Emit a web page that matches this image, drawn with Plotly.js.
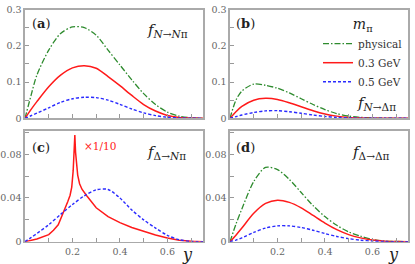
<!DOCTYPE html>
<html><head><meta charset="utf-8">
<script src="https://cdn.plot.ly/plotly-3.0.1.min.js"></script>
<style>html,body{margin:0;padding:0;background:#fff}#c{width:415px;height:264px}</style>
</head><body><div id="c"></div>
<script>
// shared y grid (momentum fraction)
const yGrid = [0, 0.025, 0.05, 0.1, 0.15, 0.2, 0.25, 0.3, 0.35, 0.4, 0.45, 0.5, 0.55, 0.6, 0.65, 0.7, 0.75];
// (a) f_{N->N pi}
const aPhys = [0, 0.062, 0.119, 0.188, 0.234, 0.252, 0.25, 0.229, 0.188, 0.147, 0.106, 0.068, 0.038, 0.017, 0.006, 0.0015, 0];
const a03   = [0, 0.024, 0.046, 0.087, 0.119, 0.139, 0.145, 0.138, 0.115, 0.09, 0.063, 0.038, 0.02, 0.008, 0.0025, 0.0005, 0];
const a05   = [0, 0.007, 0.014, 0.029, 0.044, 0.054, 0.058, 0.057, 0.05, 0.0385, 0.0257, 0.015, 0.0075, 0.003, 0.001, 0.0002, 0];
// (b) f_{N->Delta pi}
const bPhys = [0, 0.05, 0.075, 0.0945, 0.091, 0.083, 0.07, 0.054, 0.038, 0.024, 0.013, 0.006, 0.0025, 0.001, 0.0003, 0, 0];
const b03   = [0, 0.018, 0.033, 0.05, 0.055, 0.052, 0.043, 0.032, 0.021, 0.012, 0.006, 0.0025, 0.001, 0.0003, 0, 0, 0];
const b05   = [0, 0.0045, 0.009, 0.016, 0.0205, 0.021, 0.018, 0.014, 0.009, 0.005, 0.0025, 0.001, 0.0003, 0, 0, 0, 0];
// (c) f_{Delta->N pi}: 0.3 GeV curve (scaled x1/10) has a cusp
const cRedY = [0, 0.05, 0.1, 0.12, 0.14, 0.15, 0.16, 0.17, 0.18, 0.19, 0.197, 0.203, 0.207, 0.21, 0.213, 0.217, 0.222, 0.23, 0.24, 0.26, 0.28, 0.3, 0.35, 0.4, 0.45, 0.5, 0.55, 0.6, 0.65, 0.7, 0.75];
const cRed  = [0, 0.0025, 0.0065, 0.0105, 0.0155, 0.0205, 0.026, 0.031, 0.0365, 0.0425, 0.05, 0.065, 0.078, 0.0975, 0.082, 0.07, 0.061, 0.053, 0.048, 0.042, 0.036, 0.031, 0.023, 0.0175, 0.013, 0.0095, 0.0062, 0.0034, 0.0013, 0.0003, 0];
const c05   = [0, 0.0037, 0.0075, 0.0155, 0.025, 0.034, 0.042, 0.0475, 0.0478, 0.04, 0.029, 0.02, 0.0125, 0.0058, 0.0018, 0.0003, 0];
// (d) f_{Delta->Delta pi}
const dPhys = [0, 0.016, 0.03, 0.055, 0.068, 0.066, 0.057, 0.045, 0.033, 0.023, 0.015, 0.009, 0.005, 0.002, 0.0007, 0.0002, 0];
const d03   = [0, 0.006, 0.0125, 0.026, 0.035, 0.038, 0.036, 0.031, 0.024, 0.017, 0.011, 0.0065, 0.0035, 0.0015, 0.0005, 0.0001, 0];
const d05   = [0, 0.0015, 0.0035, 0.0085, 0.0125, 0.0145, 0.0145, 0.013, 0.0105, 0.0075, 0.0048, 0.0028, 0.0014, 0.0006, 0.0002, 0, 0];
const seriesNames = ['physical', '0.3 GeV', '0.5 GeV'];
const xTicks = [0.2, 0.4, 0.6];
const yTicksTop = [0, 0.1, 0.2, 0.3];
const yTicksBot = [0, 0.04, 0.08];

const GREEN = '#2e8b2e', RED = '#ff1a1a', BLUE = '#2a2aff';
const styles = [
  {color: GREEN, dash: '6px,2px,1.5px,2px', width: 1.3},
  {color: RED, dash: 'solid', width: 1.5},
  {color: BLUE, dash: '3px,2px', width: 1.4}
];
function tr(x, y, s, xa, ya, name, leg, shape) {
  return {x: x, y: y, xaxis: xa, yaxis: ya, mode: 'lines', name: name, showlegend: leg,
    line: Object.assign({shape: shape || 'spline', smoothing: 0.8}, styles[s]), hoverinfo: 'skip'};
}
const data = [
  tr(yGrid, aPhys, 0, 'x', 'y', seriesNames[0], true),
  tr(yGrid, a03, 1, 'x', 'y', seriesNames[1], true),
  tr(yGrid, a05, 2, 'x', 'y', seriesNames[2], true),
  tr(yGrid, bPhys, 0, 'x2', 'y2', seriesNames[0], false),
  tr(yGrid, b03, 1, 'x2', 'y2', seriesNames[1], false),
  tr(yGrid, b05, 2, 'x2', 'y2', seriesNames[2], false),
  tr(cRedY, cRed, 1, 'x3', 'y3', seriesNames[1], false, 'linear'),
  tr(yGrid, c05, 2, 'x3', 'y3', seriesNames[2], false),
  tr(yGrid, dPhys, 0, 'x4', 'y4', seriesNames[0], false),
  tr(yGrid, d03, 1, 'x4', 'y4', seriesNames[1], false),
  tr(yGrid, d05, 2, 'x4', 'y4', seriesNames[2], false)
];
const SERIF = 'DejaVu Serif';
const W = 415, H = 264;
function xax(l, r, anchor, labels) {
  return {domain: [l / W, r / W], range: [0, 0.75], anchor: anchor,
    tickvals: xTicks, ticktext: labels ? xTicks.map(String) : xTicks.map(() => ''),
    ticks: 'inside', ticklen: 4, tickwidth: 1, tickcolor: '#999',
    minor: {dtick: 0.1, tick0: 0, ticks: 'inside', ticklen: 4, tickcolor: '#999', showgrid: false},
    showline: true, linecolor: '#aaa', linewidth: 1.6, mirror: true,
    showgrid: false, zeroline: false, tickfont: {family: SERIF, size: 9.5, color: '#666'}, fixedrange: true};
}
function yax(top, bot, anchor, vals, rng, minorD) {
  return {domain: [(H - bot) / H, (H - top) / H], range: rng, anchor: anchor,
    tickvals: vals, ticktext: vals.map(String),
    ticks: 'inside', ticklen: 4, tickwidth: 1, tickcolor: '#999',
    minor: {dtick: minorD, tick0: 0, ticks: 'inside', ticklen: 4, tickcolor: '#999', showgrid: false},
    showline: true, linecolor: '#aaa', linewidth: 1.6, mirror: true,
    showgrid: false, zeroline: false, tickfont: {family: SERIF, size: 9.5, color: '#666'}, fixedrange: true};
}
function ann(x, y, text, size, color, xanchor) {
  return {xref: 'paper', yref: 'paper', x: x / W, y: 1 - y / H, text: text, showarrow: false,
    xanchor: xanchor || 'left', yanchor: 'middle', font: {family: SERIF, size: size, color: color || '#222'}};
}
const layout = {
  width: W, height: H, margin: {l: 0, r: 0, t: 0, b: 0},
  paper_bgcolor: '#fff', plot_bgcolor: '#fff',
  font: {family: SERIF},
  xaxis: xax(25, 203, 'y', false),
  yaxis: yax(9.5, 118.3, 'x', yTicksTop, [0, 0.3], 0.05),
  xaxis2: xax(230, 408, 'y2', false),
  yaxis2: yax(9.5, 118.3, 'x2', yTicksTop, [0, 0.3], 0.05),
  xaxis3: xax(25, 203, 'y3', true),
  yaxis3: yax(131, 241.7, 'x3', yTicksBot, [0, 0.1013], 0.02),
  xaxis4: xax(230, 408, 'y4', true),
  yaxis4: yax(131, 241.7, 'x4', yTicksBot, [0, 0.1013], 0.02),
  showlegend: true,
  legend: {x: 318 / W, y: 1 - 11 / H, xanchor: 'left', yanchor: 'top', bgcolor: 'rgba(0,0,0,0)',
    font: {family: SERIF, size: 10.5, color: '#333'}, tracegroupgap: 0, itemwidth: 30,
    title: {text: '<i>m</i><sub>π</sub>', side: 'top center', font: {family: SERIF, size: 14, color: '#222'}}},
  annotations: [
    ann(30, 23, '(<b>a</b>)', 13),
    ann(145, 30, '<i>f</i><sub><i>N</i>→<i>N</i>π</sub>', 15),
    ann(234, 23, '(<b>b</b>)', 13),
    ann(355, 103, '<i>f</i><sub><i>N</i>→Δπ</sub>', 15),
    ann(30, 147, '(<b>c</b>)', 13),
    ann(82, 146, '×1/10', 10.5, RED),
    ann(145, 152, '<i>f</i><sub>Δ→<i>N</i>π</sub>', 15),
    ann(234, 147, '(<b>d</b>)', 13),
    ann(350, 152, '<i>f</i><sub>Δ→Δπ</sub>', 15),
    ann(187, 254, '<i>y</i>', 16, '#222', 'center'),
    ann(393, 254, '<i>y</i>', 16, '#222', 'center')
  ]
};
Plotly.newPlot('c', data, layout, {staticPlot: true, displayModeBar: false});
</script></body></html>
